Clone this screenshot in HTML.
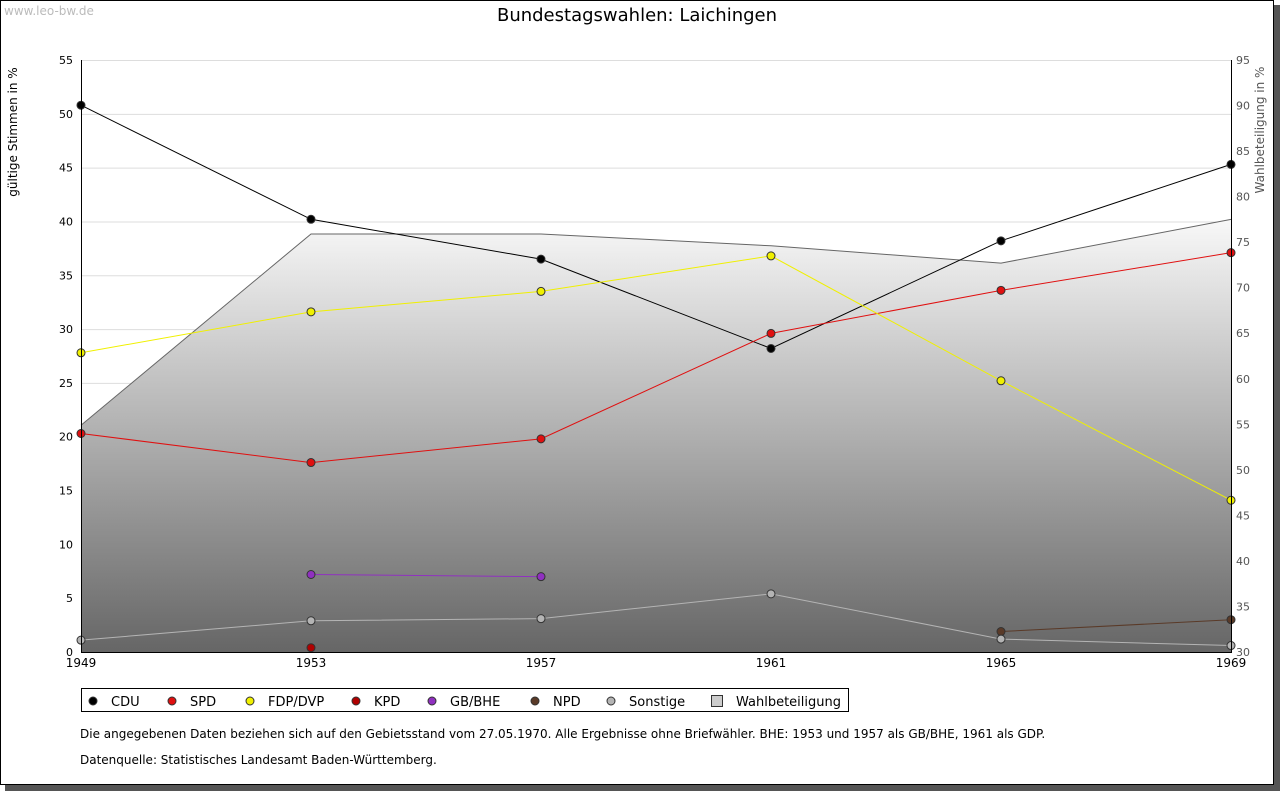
<!DOCTYPE html>
<html><head><meta charset="utf-8"><style>
body{margin:0;background:#fff;font-family:"DejaVu Sans","Liberation Sans",sans-serif}
svg{display:block}
text{font-family:"DejaVu Sans","Liberation Sans",sans-serif}
</style></head><body>
<svg id="c" width="1280" height="791" xmlns="http://www.w3.org/2000/svg">
<defs><linearGradient id="g" x1="0" y1="0" x2="0" y2="1"><stop offset="0" stop-color="#f8f8f8"/><stop offset="1" stop-color="#666"/></linearGradient></defs>
<rect x="5" y="5" width="1275" height="786" fill="#555"/>
<rect x="0.5" y="0.5" width="1273" height="784" fill="#fff" stroke="#000"/>
<text x="4" y="15" font-size="12" fill="#bbb">www.leo-bw.de</text>
<text x="637" y="21" font-size="18" text-anchor="middle">Bundestagswahlen: Laichingen</text>
<text transform="translate(17,132) rotate(-90)" font-size="12" text-anchor="middle">gültige Stimmen in %</text>
<text transform="translate(1264,130) rotate(-90)" font-size="12" fill="#555" text-anchor="middle">Wahlbeteiligung in %</text>
<g id="grid"></g><g id="area"></g><g id="lines"></g><g id="axes"></g>
<rect x="81.5" y="688.5" width="767" height="23" fill="#fff" stroke="#000"/>
<g id="legend"></g>
<text x="80" y="738" font-size="12">Die angegebenen Daten beziehen sich auf den Gebietsstand vom 27.05.1970. Alle Ergebnisse ohne Briefwähler. BHE: 1953 und 1957 als GB/BHE, 1961 als GDP.</text>
<text x="80" y="764" font-size="12">Datenquelle: Statistisches Landesamt Baden-Württemberg.</text>
</svg>
<script>
const years=[1949,1953,1957,1961,1965,1969];
const cdu=[50.8,40.2,36.5,28.2,38.2,45.3];
const spd=[20.3,17.6,19.8,29.6,33.6,37.1];
const fdp=[27.8,31.6,33.5,36.8,25.2,14.1];
const kpd=[null,0.4,null,null,null,null];
const bhe=[null,7.2,7.0,null,null,null];
const npd=[null,null,null,null,1.9,3.0];
const sonst=[1.1,2.9,3.1,5.4,1.2,0.6];
const turnout=[54.9,75.9,75.9,74.6,72.7,77.5];
const yTicks=[0,5,10,15,20,25,30,35,40,45,50,55];
const y2Ticks=[30,35,40,45,50,55,60,65,70,75,80,85,90,95];
const NS="http://www.w3.org/2000/svg";
const X=i=>81+i*230, Y=v=>652-v*592/55, Y2=v=>652-(v-30)*592/65;
function mk(p,t,a){const e=document.createElementNS(NS,t);for(const k in a)e.setAttribute(k,a[k]);document.getElementById(p).appendChild(e);return e;}
yTicks.forEach(v=>{
 const l=mk('grid','line',{x1:81,x2:1231,y1:Y(v)+.5,y2:Y(v)+.5,stroke:'#ddd'});
 
 
 const t=mk('axes','text',{x:73,y:Y(v)+4,'font-size':11,'text-anchor':'end'});t.textContent=v;
 
 
});
y2Ticks.forEach(v=>{
 const t=mk('axes','text',{x:1236,y:Y2(v)+4,'font-size':11,fill:'#555'});t.textContent=v;
 
 
});
years.forEach((y,i)=>{
 const t=mk('axes','text',{x:X(i),y:667,'font-size':12,'text-anchor':'middle'});t.textContent=y;
 
 
});
let d='M'+X(0)+','+652;turnout.forEach((v,i)=>d+=' L'+X(i)+','+Y2(v));d+=' L'+X(5)+',652Z';
const ar=mk('area','path',{d:d,fill:'url(#g)'});


const tl=mk('area','polyline',{points:turnout.map((v,i)=>X(i)+','+Y2(v)).join(' '),fill:'none',stroke:'#666'});


const ax=mk('axes','path',{d:'M81.5,60V652.5H1231.5V60',fill:'none',stroke:'#000'});


const series=[['cdu',cdu,'#000'],['spd',spd,'#e01010'],['fdp',fdp,'#f0f000'],['kpd',kpd,'#b00000'],['gb-bhe',bhe,'#9030c0'],['npd',npd,'#5a3a28'],['sonstige',sonst,'#b4b4b4']];
series.forEach(([n,arr,c])=>{
 const pts=[];arr.forEach((v,i)=>{if(v!=null)pts.push(X(i)+','+Y(v));});
 if(pts.length>1){const l=mk('lines','polyline',{points:pts.join(' '),fill:'none',stroke:c});
 
 }
 arr.forEach((v,i)=>{if(v==null)return;
  const m=mk('lines','circle',{cx:X(i),cy:Y(v),r:4,fill:c,stroke:'#333'});
  
  });
});
const leg=[['CDU','#000',93],['SPD','#e01010',172],['FDP/DVP','#f0f000',250],['KPD','#b00000',356],['GB/BHE','#9030c0',432],['NPD','#5a3a28',535],['Sonstige','#b4b4b4',611]];
leg.forEach(([n,c,x])=>{
 const m=mk('legend','circle',{cx:x,cy:701,r:4,fill:c,stroke:'#333'});
 
 
 const t=mk('legend','text',{x:x+18,y:706,'font-size':13});t.textContent=n;
 
 
});
const sq=mk('legend','rect',{x:711.5,y:695.5,width:11,height:11,fill:'#ccc',stroke:'#333'});


const wt=mk('legend','text',{x:736,y:706,'font-size':13});wt.textContent='Wahlbeteiligung';


</script>
</body></html>
